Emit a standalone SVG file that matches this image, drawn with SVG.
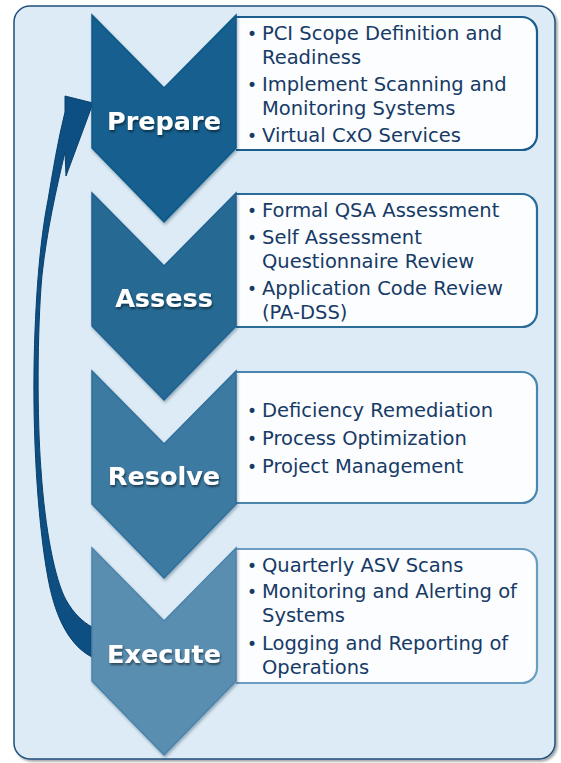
<svg xmlns="http://www.w3.org/2000/svg" width="561" height="763" viewBox="0 0 561 763">
  <defs>
    <filter id="panelShadow" x="-5%" y="-5%" width="110%" height="110%">
      <feDropShadow dx="2" dy="2" stdDeviation="1.2" flood-color="#000" flood-opacity="0.35"/>
    </filter>
    <filter id="chevShadow" x="-10%" y="-10%" width="120%" height="120%">
      <feDropShadow dx="1" dy="2" stdDeviation="1.5" flood-color="#0b2a45" flood-opacity="0.35"/>
    </filter>
    <filter id="txtShadow" x="-10%" y="-30%" width="120%" height="160%">
      <feDropShadow dx="1" dy="2" stdDeviation="1.2" flood-color="#000" flood-opacity="0.5"/>
    </filter>
    <path id="chev" d="M0,0 L72,73 L144,0 L144,133 L72,207 L0,133 Z"/>
  </defs>
  <style>
    .label { font-family: "DejaVu Sans", Verdana, sans-serif; font-weight: bold; font-size: 25.5px; fill: #ffffff; text-anchor: middle; filter: url(#txtShadow); }
    .item, .bul { font-family: "DejaVu Sans", Verdana, sans-serif; font-size: 19.5px; fill: #173a66; }
    .bul { font-size: 17px; }
    .box { fill: #fbfdfe; stroke-width: 2.2; }
    .chev { stroke-width: 1.5; filter: url(#chevShadow); }
  </style>

  <rect x="14" y="6" width="541" height="753" rx="16" ry="16" fill="#dcebf5" stroke="#1f4f7d" stroke-width="1.5" filter="url(#panelShadow)"/>

  <g id="connectors">
    <path d="M92,657 C72,647 56,622 48,578 C39,530 33,450 34,370 C35,300 40,240 48,200 C53,170 58,140 65,112 L65,96 L93,103 L66,176 L65,152 C56,190 47,230 42,275 C37,330 37,420 41,470 C45,530 55,580 66,600 C74,614 83,622 92,627 Z" fill="#0d4f82" stroke="#0a3f6a" stroke-width="1"/>
  </g>

  <g id="prepare">
    <path class="box" d="M236,17 H522 A15,15 0 0 1 537,32 V135 A15,15 0 0 1 522,150 H236" stroke="#1b5e8d"/>
    <use href="#chev" x="92" y="15" class="chev" fill="#125e8e" stroke="#0f5a89"/>
    <text class="label" x="164" y="130">Prepare</text>
    <text class="bul" x="247" y="40">•</text>
    <text class="item" x="262" y="40">PCI Scope Definition and</text>
    <text class="item" x="262" y="64">Readiness</text>
    <text class="bul" x="247" y="91">•</text>
    <text class="item" x="262" y="91">Implement Scanning and</text>
    <text class="item" x="262" y="115">Monitoring Systems</text>
    <text class="bul" x="247" y="142">•</text>
    <text class="item" x="262" y="142">Virtual CxO Services</text>
  </g>

  <g id="assess">
    <path class="box" d="M236,194 H522 A15,15 0 0 1 537,209 V312 A15,15 0 0 1 522,327 H236" stroke="#2b6d98"/>
    <use href="#chev" x="92" y="193" class="chev" fill="#276993" stroke="#1f6193"/>
    <text class="label" x="164" y="307">Assess</text>
    <text class="bul" x="247" y="217">•</text>
    <text class="item" x="262" y="217">Formal QSA Assessment</text>
    <text class="bul" x="247" y="244">•</text>
    <text class="item" x="262" y="244">Self Assessment</text>
    <text class="item" x="262" y="268">Questionnaire Review</text>
    <text class="bul" x="247" y="295">•</text>
    <text class="item" x="262" y="295">Application Code Review</text>
    <text class="item" x="262" y="319">(PA-DSS)</text>
  </g>

  <g id="resolve">
    <path class="box" d="M236,372 H522 A15,15 0 0 1 537,387 V488 A15,15 0 0 1 522,503 H236" stroke="#4a85ae"/>
    <use href="#chev" x="92" y="371" class="chev" fill="#3c7aa2" stroke="#2e6e9b"/>
    <text class="label" x="164" y="485">Resolve</text>
    <text class="bul" x="247" y="417">•</text>
    <text class="item" x="262" y="417">Deficiency Remediation</text>
    <text class="bul" x="247" y="445">•</text>
    <text class="item" x="262" y="445">Process Optimization</text>
    <text class="bul" x="247" y="473">•</text>
    <text class="item" x="262" y="473">Project Management</text>
  </g>

  <g id="execute">
    <path class="box" d="M236,549 H522 A15,15 0 0 1 537,564 V668 A15,15 0 0 1 522,683 H236" stroke="#6a9dc2"/>
    <use href="#chev" x="92" y="548" class="chev" fill="#5a8eb1" stroke="#4a82aa"/>
    <text class="label" x="164" y="663">Execute</text>
    <text class="bul" x="247" y="572">•</text>
    <text class="item" x="262" y="572">Quarterly ASV Scans</text>
    <text class="bul" x="247" y="598">•</text>
    <text class="item" x="262" y="598">Monitoring and Alerting of</text>
    <text class="item" x="262" y="622">Systems</text>
    <text class="bul" x="247" y="650">•</text>
    <text class="item" x="262" y="650">Logging and Reporting of</text>
    <text class="item" x="262" y="674">Operations</text>
  </g>
</svg>
